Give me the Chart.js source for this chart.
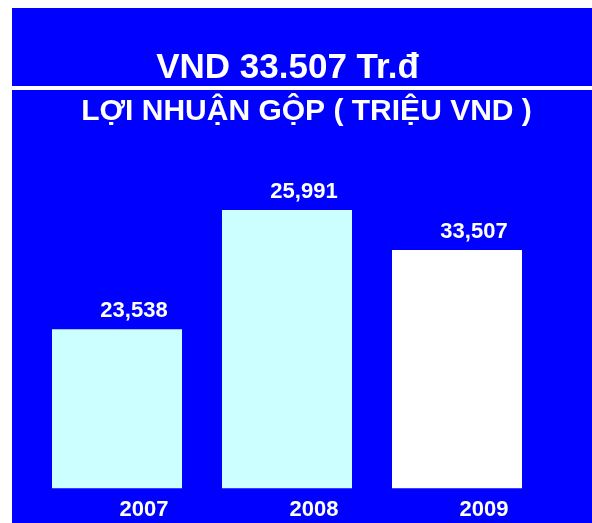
<!DOCTYPE html>
<html>
<head>
<meta charset="utf-8">
<script src="https://cdn.jsdelivr.net/npm/chart.js@4"></script>
<style>
  html, body { margin: 0; padding: 0; background: #fff; }
  #wrap { width: 592px; height: 523px; }
</style>
</head>
<body>
<div id="wrap"><canvas id="loiNhuanChart" width="592" height="523"></canvas></div>
<script>
// du lieu doc tu hinh
const nam = ['2007', '2008', '2009'];
const giaTriNhan = ['23,538', '25,991', '33,507']; // so ghi tren cot
const chieuCaoCot = [159, 278, 238]; // chieu cao cot nhu trong hinh (khong theo ti le so lieu)
const mauCot = ['#CCFFFF', '#CCFFFF', '#FFFFFF'];
const tieuDe1 = 'VND 33.507 Tr.đ';
const tieuDe2 = 'LỢI NHUẬN GỘP ( TRIỆU VND )';

const FONT = '"Liberation Sans", Arial, sans-serif';

// nen xanh + tieu de
const nenPlugin = {
  id: 'nen',
  beforeDraw(chart) {
    const c = chart.ctx;
    c.save();
    c.fillStyle = '#ffffff';
    c.fillRect(0, 0, chart.width, chart.height);
    c.fillStyle = '#0000FF';
    c.fillRect(12, 8, chart.width - 12, chart.height - 8);
    c.fillStyle = '#ffffff';
    c.fillRect(12, 86, chart.width - 12, 4);
    c.textAlign = 'center';
    c.textBaseline = 'alphabetic';
    c.font = 'bold 35px ' + FONT;
    c.fillText(tieuDe1, 287.5, 78);
    c.font = 'bold 30px ' + FONT;
    c.fillText(tieuDe2, 306.5, 120);
    c.restore();
  }
};

// so lieu tren dau cot
const nhanPlugin = {
  id: 'nhan',
  afterDatasetsDraw(chart) {
    const c = chart.ctx;
    const meta = chart.getDatasetMeta(0);
    c.save();
    c.fillStyle = '#ffffff';
    c.font = 'bold 22px ' + FONT;
    c.textAlign = 'center';
    c.textBaseline = 'middle';
    meta.data.forEach(function(bar, i) {
      c.fillText(giaTriNhan[i], bar.x + 17, bar.y - 18);
    });
    c.restore();
  }
};

const ctx = document.getElementById('loiNhuanChart').getContext('2d');
const loiNhuanChart = new Chart(ctx, {
  type: 'bar',
  data: {
    labels: nam,
    datasets: [{
      label: 'Lợi nhuận gộp',
      data: chieuCaoCot,
      backgroundColor: mauCot,
      borderWidth: 0,
      categoryPercentage: 1,
      barPercentage: 130 / 170
    }]
  },
  options: {
    responsive: false,
    animation: false,
    layout: {
      padding: { top: 188, left: 32, right: 50, bottom: -8 }
    },
    scales: {
      y: {
        display: false,
        min: 0,
        max: 300
      },
      x: {
        border: { display: false },
        grid: { display: false, drawTicks: false },
        ticks: {
          color: '#ffffff',
          font: { family: FONT, size: 22, weight: 'bold' },
          padding: 8,
          labelOffset: 27
        }
      }
    },
    plugins: {
      legend: { display: false },
      tooltip: { enabled: false }
    }
  },
  plugins: [nenPlugin, nhanPlugin]
});
</script>
</body>
</html>
